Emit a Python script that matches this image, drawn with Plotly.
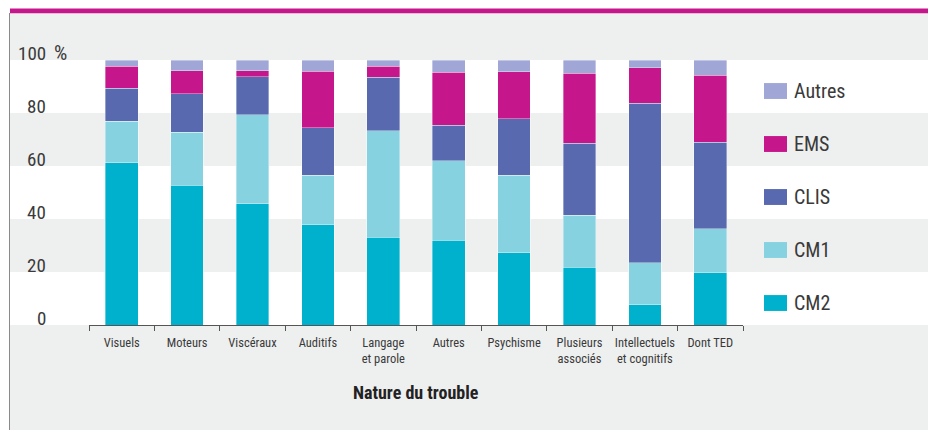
import plotly.graph_objects as go

categories = ["Visuels", "Moteurs", "Viscéraux", "Auditifs", "Langage<br>et parole",
              "Autres", "Psychisme", "Plusieurs<br>associés", "Intellectuels<br>et cognitifs", "Dont TED"]

cm2 = [61.2, 52.7, 45.7, 37.8, 33.2, 32.0, 27.2, 21.8, 7.7, 19.7]
cm1 = [15.6, 20.1, 33.6, 18.7, 40.1, 30.0, 29.4, 19.7, 15.8, 16.7]
clis = [12.5, 14.4, 14.3, 17.9, 20.1, 13.3, 21.3, 27.0, 60.2, 32.5]
ems = [8.4, 8.7, 2.4, 21.3, 4.3, 20.1, 17.6, 26.5, 13.3, 25.3]
autres = [2.3, 4.1, 4.0, 4.3, 2.3, 4.6, 4.5, 5.0, 3.0, 5.8]

series_names = ["CM2", "CM1", "CLIS", "EMS", "Autres"]
series_values = [cm2, cm1, clis, ems, autres]
colors = ["#00b1cd", "#86d2e0", "#5869b0", "#c6168c", "#a0a6d6"]

y_ticks = [0, 20, 40, 60, 80, 100]

FONT = "Roboto Condensed, DejaVu Sans Condensed, sans-serif"
# the page puts the figure 8px in from the top-left corner (body margin)
OFF = 8
W, H = 936 - OFF, 430 - OFF
L, R, T, B = 89 - OFF, 193, 60 - OFF, 105
GRAY = "#eeefef"
TEXT = "#3a3a3a"


def px(x):
    # page pixel -> paper x
    return (x - OFF - L) / (W - L - R)


def py(y):
    # page pixel -> paper y
    return (H - B - (y - OFF)) / (H - T - B)


fig = go.Figure()
for name, vals, col in zip(series_names, series_values, colors):
    fig.add_trace(go.Bar(
        x=categories, y=vals, name=name,
        marker=dict(color=col, line=dict(color="rgba(255,255,255,0.45)", width=0.8)),
        width=0.5, showlegend=False,
    ))

shapes = []
# page background and frame
shapes.append(dict(type="rect", xref="paper", yref="paper", x0=px(10), x1=px(933),
                   y0=py(13), y1=py(431), fillcolor=GRAY, line_width=0, layer="below"))
# white bands
for lo in (0, 40, 80):
    shapes.append(dict(type="rect", xref="paper", yref="y", x0=px(10), x1=px(932),
                       y0=lo, y1=lo + 20, fillcolor="white", line_width=0, layer="below"))
shapes.append(dict(type="rect", xref="paper", yref="paper", x0=px(10), x1=px(933),
                   y0=py(13.3), y1=py(8.5), fillcolor="#c6168c", line_width=0, layer="below"))
shapes.append(dict(type="line", xref="paper", yref="paper", x0=px(9.5), x1=px(9.5),
                   y0=py(13), y1=py(431), line=dict(color="#8a8a8a", width=1), layer="below"))
shapes.append(dict(type="rect", xref="paper", yref="paper", x0=px(932.8), x1=px(935),
                   y0=py(13), y1=py(431), fillcolor="#c8c8c8", line_width=0, layer="below"))

annotations = []
# y tick labels, sitting on their grid line
for v in y_ticks:
    annotations.append(dict(xref="paper", yref="y", x=px(47.5), y=v, text=str(v),
                            xanchor="right", yanchor="bottom", yshift=-6.5, showarrow=False,
                            font=dict(family=FONT, size=19, color=TEXT)))
annotations.append(dict(xref="paper", yref="y", x=px(52), y=100, text="%",
                        xanchor="left", yanchor="bottom", yshift=-6.5, showarrow=False,
                        font=dict(family=FONT, size=21, color=TEXT)))

# legend drawn by hand: boxes in each band
for i, (name, col) in enumerate(reversed(list(zip(series_names, colors)))):
    yc = 90 - 20 * i - 1.7
    shapes.append(dict(type="rect", xref="paper", yref="y", x0=px(764), x1=px(787),
                       y0=yc - 3.0, y1=yc + 3.0, fillcolor=col, line_width=0))
    annotations.append(dict(xref="paper", yref="y", x=px(792), y=yc, text=name,
                            xanchor="left", yanchor="middle", showarrow=False,
                            font=dict(family=FONT, size=20, color=TEXT)))

annotations.append(dict(xref="paper", yref="paper", x=0.5, y=py(392), text="<b>Nature du trouble</b>",
                        xanchor="center", yanchor="middle", showarrow=False,
                        font=dict(family=FONT, size=18, color="#222222")))

fig.update_layout(
    width=W, height=H,
    margin=dict(l=L, r=R, t=T, b=B),
    paper_bgcolor="white", plot_bgcolor="rgba(0,0,0,0)",
    barmode="stack", bargap=0.5,
    shapes=shapes, annotations=annotations,
    xaxis=dict(type="category", tickson="boundaries", ticks="outside", ticklen=5,
               tickcolor="#555555", showline=True, linecolor="#555555", linewidth=1,
               showgrid=False, range=[-0.5, 9.5], tickangle=0, ticklabelstandoff=6,
               tickfont=dict(family=FONT, size=12.5, color=TEXT)),
    yaxis=dict(range=[0, 100], showticklabels=False, showgrid=False, zeroline=False,
               showline=False, ticks=""),
    font=dict(family=FONT),
)

fig.write_html("out.html")
